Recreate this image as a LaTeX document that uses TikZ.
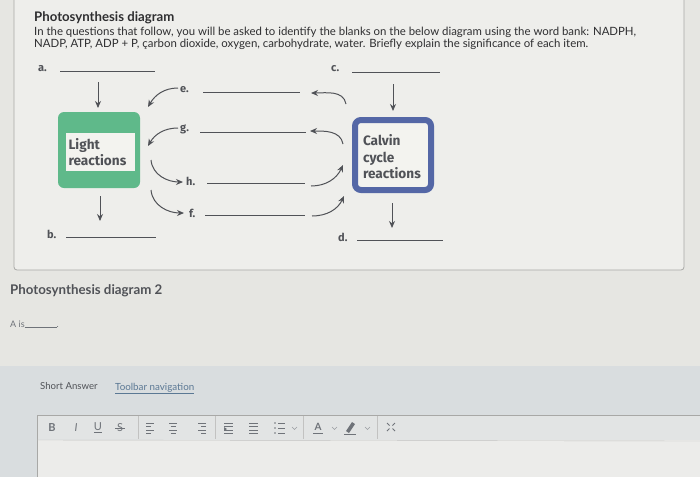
\documentclass[tikz,border=0pt]{standalone}
\usepackage{fontspec}
\setmainfont{Lato}
\newfontfamily\heavyfont{Fira Sans}
\usetikzlibrary{arrows.meta}
\definecolor{bg}{HTML}{E6E6E2}
\definecolor{panel}{HTML}{EEEEEB}
\definecolor{panelline}{HTML}{A8A8A6}
\definecolor{txt}{HTML}{2E2E30}
\definecolor{ink}{HTML}{505257}
\definecolor{green}{HTML}{5FB98A}
\definecolor{blue}{HTML}{5467A6}
\definecolor{inner}{HTML}{F3F3EF}
\definecolor{band}{HTML}{D9DDDF}
\definecolor{tool}{HTML}{E2E4E4}
\definecolor{editor}{HTML}{ECECEA}
\definecolor{link}{HTML}{5B7894}
\definecolor{icon}{HTML}{6F7379}
\begin{document}
\begin{tikzpicture}[x=1pt,y=-1pt,
  lbl/.style={anchor=base west,inner sep=0pt,font=\fontsize{11}{12}\selectfont\heavyfont\bfseries,text=ink},
  blank/.style={ink,line width=1pt},
  arr/.style={ink,line width=1pt,-{Stealth[length=7pt,width=6pt]}},
  boxtxt/.style={font=\fontsize{13.6}{16.5}\selectfont\heavyfont\bfseries,text=ink,align=left},
  icn/.style={font=\fontsize{11}{11}\selectfont,text=icon,inner sep=0pt}]
\useasboundingbox (0,0) rectangle (700,477);
\fill[bg] (0,0) rectangle (700,477);
% top panel
\draw[panelline,fill=panel,rounded corners=3pt,line width=0.8pt] (14,-6) rectangle (684,270);
\node[anchor=base west,inner sep=0pt,font=\fontsize{13.2}{15}\selectfont\bfseries,text=txt] (title) at (34,21) {Photosynthesis diagram};
\node[anchor=base west,inner sep=0pt,font=\fontsize{11.4}{12}\selectfont,text=txt,align=left] (para) at (34,47)
 {In the questions that follow, you will be asked to identify the blanks on the below diagram using the word bank: NADPH,\\
  NADP, ATP, ADP + P, çarbon dioxide, oxygen, carbohydrate, water. Briefly explain the significance of each item.};
% blanks
\node[lbl] (la) at (38,71) {a.};
\draw[blank] (60,71) -- (155,71);
\node[lbl] (lc) at (331,71) {c.};
\draw[blank] (352,72) -- (440,72);
\node[lbl] (lb) at (47,238) {b.};
\draw[blank] (66,237) -- (156,237);
\node[lbl] (ld) at (338,241) {d.};
\draw[blank] (357,240) -- (443,240);
% light reactions box
\node[fill=green,rounded corners=6pt,minimum width=82pt,minimum height=76pt] (light) at (99,150) {};
\node[fill=inner,minimum width=68pt,minimum height=38pt,boxtxt,text width=63pt,inner sep=3pt] (lighttxt) at (100,152) {Light\\reactions};
% calvin box
\node[draw=blue,line width=6pt,fill=inner,rounded corners=6pt,minimum width=76pt,minimum height=70pt] (calvin) at (393,155) {};
\node[boxtxt,text width=62pt,inner sep=0pt] (calvintxt) at (394,157) {Calvin\\cycle\\reactions};
% vertical arrows
\draw[arr] (98,82) -- (98,108);
\draw[arr] (100,196) -- (100,221);
\draw[arr] (393,84) -- (393,111);
\draw[arr] (392,203) -- (392,228);
% middle labels & lines
\node[lbl] (le) at (180,92) {e.};
\draw[blank] (203,92) -- (300,92);
\node[lbl] (lg) at (180,131) {g.};
\draw[blank] (200,132) -- (306,132);
\node[lbl] (lh) at (186,185) {h.};
\draw[blank] (207,183) -- (305,183);
\node[lbl] (lf) at (189,217) {f.};
\draw[blank] (205,215) -- (305,215);
% curved arrows
\draw[arr] (178,88) to[out=180,in=60] (148,107);
\draw[arr] (346,104) to[out=100,in=0] (311,93);
\draw[arr] (178,128) to[out=180,in=60] (148,146);
\draw[arr] (343,144) to[out=100,in=0] (310,131);
\draw[arr] (151,160) to[out=-85,in=180] (183,182);
\draw[arr] (311,186) to[out=0,in=-115] (343,165);
\draw[arr] (151,190) to[out=-85,in=180] (184,213);
\draw[arr] (312,216) to[out=0,in=-115] (344,196);
% second section
\node[anchor=base west,inner sep=0pt,font=\fontsize{13.3}{15}\selectfont\bfseries,text=ink] (title2) at (10,294) {Photosynthesis diagram 2};
\node[anchor=base west,inner sep=0pt,font=\fontsize{9}{10}\selectfont,text=icon] (ais) at (10,327) {A is\rule[-0.5pt]{32pt}{0.5pt}.};
% bottom band
\fill[band] (0,366) rectangle (700,477);
\node[anchor=base west,inner sep=0pt,font=\fontsize{9.6}{11}\selectfont,text=ink] (sa) at (40,389) {Short Answer};
\node[anchor=base west,inner sep=0pt,font=\fontsize{9.8}{11}\selectfont,text=link] (tn) at (115,390) {\underline{Toolbar navigation}};
\draw[panelline,fill=tool] (37,415) rectangle (705,440);
\fill[editor] (37.5,440) rectangle (705,477);
\draw[panelline] (37,440) -- (37,477);
\draw[panelline!70] (37,440) -- (705,441);
\foreach \x in {138,215,303,377} \draw[panelline!70] (\x,416) -- (\x,439);
\node[icn,font=\fontsize{11}{11}\selectfont\bfseries] (ib) at (52,428) {B};
\node[icn,font=\fontsize{11}{11}\selectfont\itshape] (ii) at (76,428) {I};
\node[icn] (iu) at (98,428) {\underline{U}};
\node[icn] (is) at (120,428) {S};
\draw[icon,line width=0.7pt] (115,428) -- (125,428);
% align icons
\foreach \cx/\k in {150/0,173/1,202/2}{
  \foreach \yy/\w in {423/8,426.5/5,430/8,433.5/5}{
    \ifcase\k
      \draw[icon,line width=0.9pt] (\cx-4,\yy) -- ++(\w,0);
    \or
      \draw[icon,line width=0.9pt] (\cx-\w/2,\yy) -- ++(\w,0);
    \or
      \draw[icon,line width=0.9pt] (\cx+4,\yy) -- ++(-\w,0);
    \fi
  }
}
% indent icons
\foreach \cx in {228,253}{
  \foreach \yy in {423,426.5,430,433.5} \draw[icon,line width=0.9pt] (\cx-4,\yy) -- (\cx+5,\yy);
}
\fill[icon] (224,427) -- (227,429) -- (224,431) -- cycle;
% list icon
\foreach \yy in {423,428,433}{
  \fill[icon] (275,\yy) circle (0.9pt);
  \draw[icon,line width=0.9pt] (278,\yy) -- (285,\yy);
}
\draw[icon!70,line width=0.6pt] (292,427) -- (294.5,429.5) -- (297,427);
% font colour
\node[icn,font=\fontsize{10}{10}\selectfont\bfseries] (ia) at (318,427) {A};
\draw[icon,line width=1pt] (313,433.5) -- (323,433.5);
\draw[icon!70,line width=0.6pt] (332,427) -- (334.5,429.5) -- (337,427);
% highlighter
\fill[icon] (346,431) -- (352,422) -- (355,424) -- (349,433) -- cycle;
\draw[icon,line width=1pt] (344,434) -- (356,434);
\draw[icon!70,line width=0.6pt] (365,427) -- (367.5,429.5) -- (370,427);
% expand icon
\foreach \dx/\dy in {-1/-1,1/-1,-1/1,1/1}{
  \draw[icon,line width=0.8pt] (391+\dx*4,427+\dy*4) -- (391+\dx*1.5,427+\dy*1.5);
}
\end{tikzpicture}
\end{document}
